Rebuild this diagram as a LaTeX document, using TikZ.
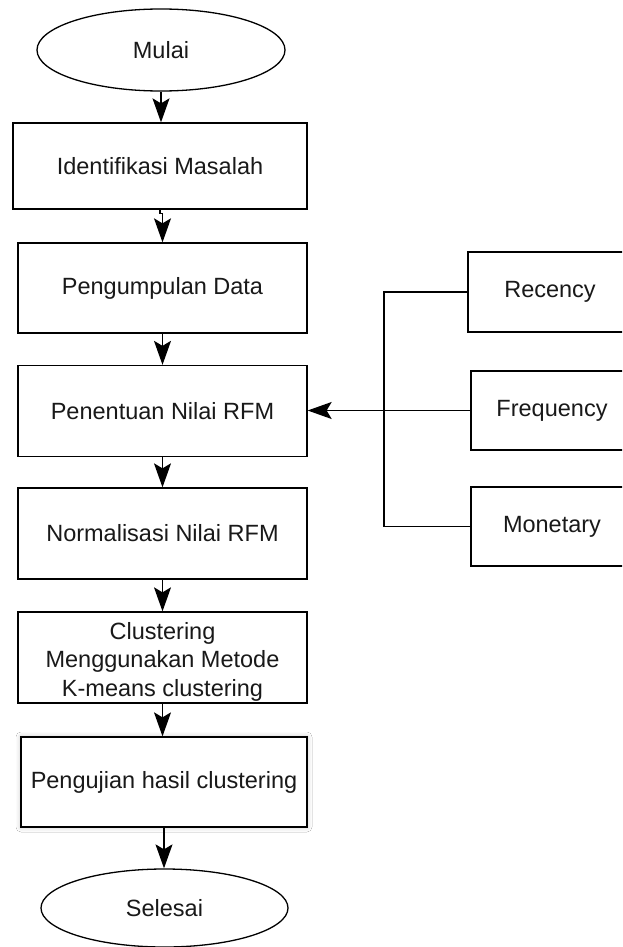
\documentclass[tikz,border=0pt]{standalone}
\usepackage{fontspec}
\setmainfont{Liberation Sans}
\usetikzlibrary{shapes.geometric,arrows.meta,shadows.blur}
\begin{document}
\begin{tikzpicture}[x=1pt,y=-1pt,
  every node/.style={text=black!90,font=\fontsize{23.5}{28.5}\selectfont},
  ln/.style={draw=black,line width=1.3pt},
  boxx/.style={ln,rectangle,fill=white,inner sep=0pt},
  ell/.style={ln,ellipse,fill=white,inner sep=0pt},
  arr/.style={ln,-{Stealth[length=24pt,width=17pt,inset=5pt]}}]
\clip (0,0) rectangle (622,947);
\fill[white] (0,0) rectangle (622,947);

\node[ell,minimum width=248,minimum height=82] (mulai) at (161,50) {Mulai};
\node[boxx,minimum width=294,minimum height=86] (b1) at (160,166) {Identifikasi Masalah};
\node[boxx,minimum width=289,minimum height=90] (b2) at (162.5,288) {Pengumpulan Data};
\node[boxx,minimum width=289,minimum height=91] (b3) at (162.5,411) {Penentuan Nilai RFM};
\node[boxx,minimum width=289,minimum height=91] (b4) at (162.5,533.5) {Normalisasi Nilai RFM};
\node[boxx,minimum width=289,minimum height=91] (b5) at (162.5,657.5) {};
\node[align=center,inner sep=0pt] (b5t) at (162.5,661.5) {Clustering\\Menggunakan Metode\\K-means clustering};
\node[boxx,minimum width=286,minimum height=90,
  blur shadow={shadow xshift=0pt,shadow yshift=0pt,shadow blur radius=5pt,shadow opacity=25}] (b6) at (164,782) {Pengujian hasil clustering};
\node[ell,minimum width=247,minimum height=78] (sel) at (164.5,908) {Selesai};

\node[boxx,minimum width=164,minimum height=80] (rec) at (550,292) {Recency};
\node[boxx,minimum width=162,minimum height=79] (freq) at (552,410.5) {Frequency};
\node[boxx,minimum width=162,minimum height=79] (mon) at (552,526.5) {Monetary};

\draw[arr] (mulai.south) -- (mulai.south |- b1.north);
\draw[arr] (b1.south) -- ++(0,4) -| (b2.north);
\draw[arr] (b2.south) -- (b3.north);
\draw[arr] (b3.south) -- (b4.north);
\draw[arr] (b4.south) -- (b5.north);
\draw[arr] (b5.south) -- (b5.south |- b6.north);
\draw[arr] (b6.south) -- (b6.south |- sel.north);

\coordinate (jx) at (384,410.5);
\draw[ln] (rec.west) -| (jx);
\draw[ln] (mon.west) -| (jx);
\draw[arr] (freq.west) -- (freq.west -| b3.east);
\end{tikzpicture}
\end{document}
